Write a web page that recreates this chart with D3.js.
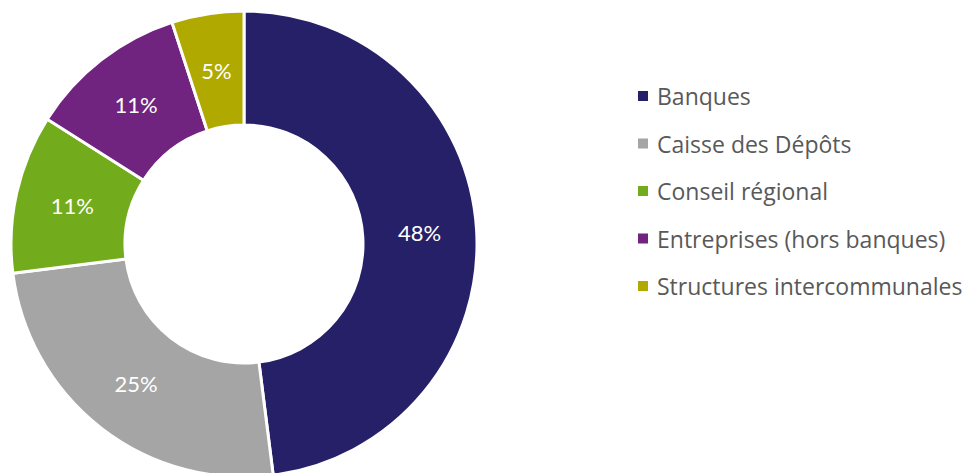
<!DOCTYPE html>
<html><head><meta charset="utf-8">
<script src="https://cdn.jsdelivr.net/npm/d3@7/dist/d3.min.js"></script>
<style>body{margin:0;background:#fff}svg{display:block}</style>
</head><body>
<svg id="c" width="968" height="473"></svg>
<script>
const categories = ["Banques","Caisse des Dépôts","Conseil régional","Entreprises (hors banques)","Structures intercommunales"];
const values = [48,25,11,11,5];
const colors = ["#262068","#a5a5a5","#72ac1c","#70237f","#b0aa00"];

const svg = d3.select("#c");
const cx = 244, cy = 244, R = 233, r0 = 119;
const data = categories.map((c,i)=>({name:c,value:values[i],color:colors[i]}));
const pie = d3.pie().value(d=>d.value).sort(null);
const arc = d3.arc().innerRadius(r0).outerRadius(R);
const labelArc = d3.arc().innerRadius(176).outerRadius(176);
const g = svg.append("g").attr("transform",`translate(${cx},${cy})`);
const arcs = pie(data);
g.selectAll("path").data(arcs).join("path")
  .attr("d",arc).attr("fill",d=>d.data.color)
  .attr("stroke","#fff").attr("stroke-width",3).attr("stroke-linejoin","miter");
g.selectAll("text").data(arcs).join("text")
  .attr("transform",d=>`translate(${labelArc.centroid(d)})`)
  .attr("text-anchor","middle").attr("dominant-baseline","central")
  .attr("fill","#fff").attr("font-family","Lato, 'Open Sans', sans-serif").attr("font-size",22)
  .text(d=>d.data.value+"%");

const lg = svg.append("g");
const y0 = 96, dy = 47.5;
const rows = lg.selectAll("g").data(data).join("g")
  .attr("transform",(d,i)=>`translate(638,${y0+i*dy})`);
rows.append("rect").attr("x",0).attr("y",-5).attr("width",10).attr("height",10).attr("fill",d=>d.color);
rows.append("text").attr("x",19).attr("y",0).attr("dominant-baseline","central")
  .attr("fill","#595959").attr("font-family","'Open Sans', Lato, sans-serif").attr("font-size",23)
  .text(d=>d.name);
</script>
</body></html>
